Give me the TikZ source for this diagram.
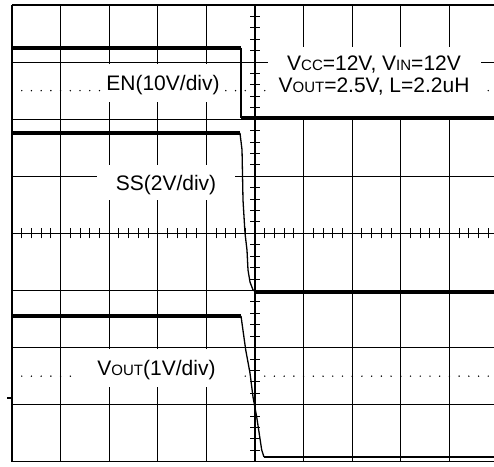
\documentclass[tikz,border=0pt]{standalone}
\usepackage{fontspec}
\setmainfont{Liberation Sans}
\usetikzlibrary{positioning, calc}

\newcommand{\lowcap}[1]{{\fontsize{15}{15}\selectfont #1}}

\begin{document}
\begin{tikzpicture}[x=48.6pt, y=-57.1pt,
    gridline/.style={line width=1.1pt},
    tickline/.style={line width=1pt},
    trace/.style={line width=3.3pt},
    edgeline/.style={line width=1.3pt, line join=round},
    labelbox/.style={fill=white, inner sep=0pt, text height=14.5pt, text depth=0pt},
    font=\fontsize{21}{22}\selectfont]
  \useasboundingbox (-12pt,5pt) rectangle (482pt,-461pt);
  \clip (-12pt,5pt) rectangle (482pt,-461pt);

  \foreach \i in {0,...,10} \draw[gridline] (\i,0) -- (\i,8);
  \foreach \j in {0,...,8} \draw[gridline] (0,\j) -- (10,\j);
  \foreach \t in {1,...,39} \draw[tickline] (5,\t/5) ++(-5pt,0) -- ++(10pt,0);
  \foreach \t in {1,...,49} \draw[tickline] (\t/5,4) ++(0,-5pt) -- ++(0,10pt);
  \foreach \t in {1,...,49} {
    \fill (\t/5,1.5) circle (0.8pt);
    \fill (\t/5,6.5) circle (0.8pt);
  }
  \draw[gridline] (-0.1,6.883) -- (0,6.883);

  \node[labelbox, minimum width=118pt, minimum height=38pt] (en) at (3.107,1.366) {EN(10V/div)};
  \node[labelbox, minimum width=138pt, minimum height=35pt] (ss) at (3.169,3.117) {SS(2V/div)};
  \node[labelbox, minimum width=161pt, minimum height=38pt] (vout) at (2.973,6.357) {V\lowcap{OUT}(1V/div)};
  \node[fill=white, minimum width=213pt, minimum height=69pt] (condbox) at (7.459,1.340) {};
  \node[align=center, inner sep=0pt] (cond) at (7.449,1.240)
    {V\lowcap{CC}=12V, V\lowcap{IN}=12V\\V\lowcap{OUT}=2.5V, L=2.2uH};

  \draw[trace] (0,0.753) -- (4.712,0.753);
  \draw[edgeline] (4.712,0.753) -- (4.712,1.98);
  \draw[trace] (4.712,1.98) -- (10,1.98);

  \draw[trace] (0,2.242) -- (4.691,2.242);
  \draw[edgeline] (4.691,2.242) -- (4.733,2.539) -- (4.753,3.415) -- (4.794,3.993)
    -- (4.835,4.291) -- (4.856,4.641) -- (4.897,4.851) -- (4.959,4.991) -- (5.021,5.026);
  \draw[trace] (5.021,5.026) -- (10,5.026);

  \draw[trace] (0,5.447) -- (4.712,5.447);
  \draw[edgeline] (4.712,5.447) -- (4.809,6.042) -- (4.897,6.445) -- (4.959,6.865)
    -- (5.035,7.215) -- (5.138,7.793) -- (5.185,7.916);
  \draw[line width=1.8pt] (5.185,7.916) -- (10,7.916);
\end{tikzpicture}
\end{document}
